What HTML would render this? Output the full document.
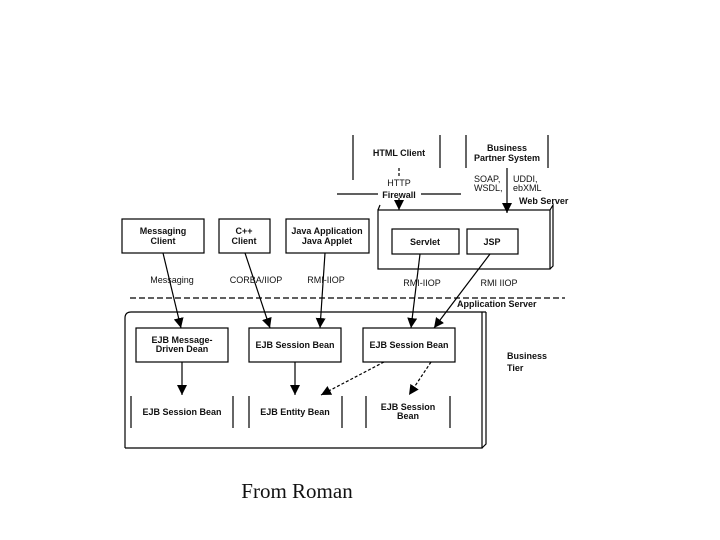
<!DOCTYPE html>
<html><head><meta charset="utf-8"><style>
html,body{margin:0;padding:0;background:#fff;}
svg{display:block;}
text{font-family:"Liberation Sans",Arial,sans-serif;font-weight:bold;font-size:9px;fill:#111;}
.n{font-weight:normal;}
</style></head><body>
<svg width="720" height="540" viewBox="0 0 720 540" xmlns="http://www.w3.org/2000/svg">
<defs>
<marker id="a" markerWidth="8" markerHeight="8" refX="4" refY="7" orient="auto" markerUnits="userSpaceOnUse">
<path d="M0,0 L8,0 L4,8 z" fill="#000" transform="rotate(0)"/>
</marker>
<marker id="b" viewBox="0 0 10 10" markerWidth="10" markerHeight="10" refX="10" refY="5" orient="auto" markerUnits="userSpaceOnUse">
<path d="M0,0 L10,5 L0,10 z" fill="#000"/>
</marker>
</defs>
<g stroke="#000" stroke-width="1.2" fill="none">
<!-- top clients -->
<line x1="357" y1="183" x2="357" y2="228" transform="translate(-4,-48)"/>
<line x1="440" y1="135" x2="440" y2="168"/>
<line x1="466" y1="135" x2="466" y2="168"/>
<line x1="548" y1="135" x2="548" y2="168"/>
<line x1="399" y1="168" x2="399" y2="176" stroke-dasharray="3,2"/>
<line x1="337" y1="194" x2="378" y2="194"/>
<line x1="421" y1="194" x2="461" y2="194"/>
<line x1="399" y1="198" x2="399" y2="210" marker-end="url(#b)"/>
<line x1="507" y1="168" x2="507" y2="213" marker-end="url(#b)"/>
<!-- web server -->
<path d="M378,210 L380,205"/>
<rect x="378" y="210" width="172" height="59"/>
<path d="M550,210 L553,205 L553,266 L550,269"/>
<rect x="392" y="229" width="67" height="25"/>
<rect x="467" y="229" width="51" height="25"/>
<!-- clients -->
<rect x="122" y="219" width="82" height="34"/>
<rect x="219" y="219" width="51" height="34"/>
<rect x="286" y="219" width="83" height="34"/>
<!-- dashed line -->
<line x1="130" y1="298" x2="565" y2="298" stroke-dasharray="6,3"/>
<!-- business box -->
<path d="M125,448 L125,318 Q125,312 131,312 L486,312"/>
<rect x="125" y="312" width="357" height="0" stroke="none"/>
<path d="M125,448 L482,448 L482,312"/>
<path d="M482,448 L486,444 L486,312"/>
<rect x="136" y="328" width="92" height="34"/>
<rect x="249" y="328" width="92" height="34"/>
<rect x="363" y="328" width="92" height="34"/>
<!-- bottom bars -->
<line x1="131" y1="396" x2="131" y2="428"/><line x1="233" y1="396" x2="233" y2="428"/>
<line x1="249" y1="396" x2="249" y2="428"/><line x1="342" y1="396" x2="342" y2="428"/>
<line x1="366" y1="396" x2="366" y2="428"/><line x1="450" y1="396" x2="450" y2="428"/>
<!-- connectors -->
<line x1="163" y1="253" x2="181" y2="328" marker-end="url(#b)"/>
<line x1="245" y1="253" x2="270" y2="328" marker-end="url(#b)"/>
<line x1="325" y1="253" x2="320" y2="328" marker-end="url(#b)"/>
<line x1="420" y1="254" x2="411" y2="328" marker-end="url(#b)"/>
<line x1="490" y1="254" x2="434" y2="328" marker-end="url(#b)"/>
<line x1="182" y1="362" x2="182" y2="395" marker-end="url(#b)"/>
<line x1="295" y1="362" x2="295" y2="395" marker-end="url(#b)"/>
<line x1="384" y1="362" x2="321" y2="395" stroke-dasharray="3,2" marker-end="url(#b)"/>
<line x1="431" y1="362" x2="409" y2="395" stroke-dasharray="3,2" marker-end="url(#b)"/>
</g>
<text x="399" y="156" text-anchor="middle">HTML Client</text>
<text x="507" y="151" text-anchor="middle">Business</text>
<text x="507" y="161" text-anchor="middle">Partner System</text>
<text x="399" y="186" text-anchor="middle" class="n" font-size="10">HTTP</text>
<text x="399" y="198" text-anchor="middle">Firewall</text>
<text x="474" y="182" class="n">SOAP,</text>
<text x="474" y="191" class="n">WSDL,</text>
<text x="513" y="182" class="n">UDDI,</text>
<text x="513" y="191" class="n">ebXML</text>
<text x="519" y="204" font-size="8">Web Server</text>
<text x="425" y="245" text-anchor="middle">Servlet</text>
<text x="492" y="245" text-anchor="middle">JSP</text>
<text x="163" y="234" text-anchor="middle">Messaging</text>
<text x="163" y="244" text-anchor="middle">Client</text>
<text x="244" y="234" text-anchor="middle">C++</text>
<text x="244" y="244" text-anchor="middle">Client</text>
<text x="327" y="234" text-anchor="middle">Java Application</text>
<text x="327" y="244" text-anchor="middle">Java Applet</text>
<text x="172" y="382" text-anchor="middle" class="n" transform="translate(0,-99)">Messaging</text>
<text x="256" y="283" text-anchor="middle" class="n">CORBA/IIOP</text>
<text x="326" y="283" text-anchor="middle" class="n">RMI-IIOP</text>
<text x="422" y="286" text-anchor="middle" class="n">RMI-IIOP</text>
<text x="499" y="286" text-anchor="middle" class="n">RMI IIOP</text>
<text x="457" y="307" font-size="8">Application Server</text>
<text x="182" y="343" text-anchor="middle">EJB Message-</text>
<text x="182" y="352" text-anchor="middle">Driven Dean</text>
<text x="295" y="348" text-anchor="middle">EJB Session Bean</text>
<text x="409" y="348" text-anchor="middle">EJB Session Bean</text>
<text x="182" y="415" text-anchor="middle">EJB Session Bean</text>
<text x="295" y="415" text-anchor="middle">EJB Entity Bean</text>
<text x="408" y="410" text-anchor="middle">EJB Session</text>
<text x="408" y="419" text-anchor="middle">Bean</text>
<text x="507" y="359" font-size="11">Business</text>
<text x="507" y="371" font-size="11">Tier</text>
<text x="297" y="498" text-anchor="middle" style="font-family:'Liberation Serif',serif;font-weight:normal;font-size:21px">From Roman</text>
</svg>
</body></html>
